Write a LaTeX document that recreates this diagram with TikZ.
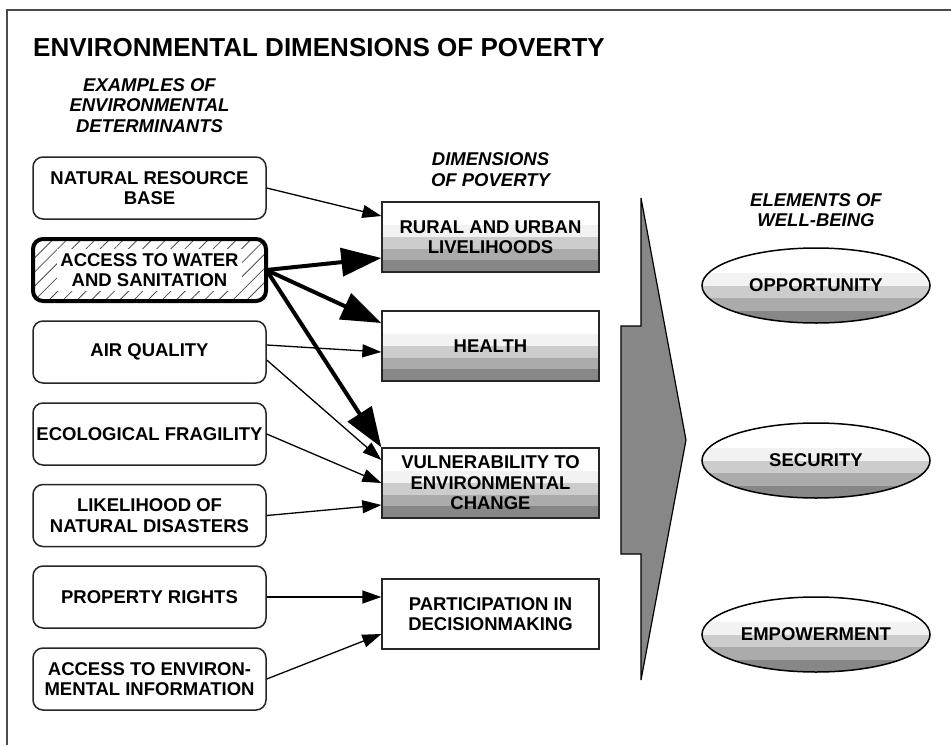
\documentclass[tikz,border=0pt]{standalone}
\usepackage{fontspec}
\setmainfont{Liberation Sans}
\usetikzlibrary{shapes.geometric, arrows.meta, calc, patterns.meta}
\newcommand{\detfont}{\fontsize{18.5}{20.4}\selectfont\bfseries}
\newcommand{\headfont}{\fontsize{18.5}{20.5}\selectfont\bfseries\itshape}
\newcommand{\titlefont}{\fontsize{26}{30}\selectfont\bfseries}
\tikzstyle{detbox} = [draw=black!85, line width=1.5pt, rounded corners=10pt, minimum width=233pt, minimum height=62pt, inner sep=0pt, align=center, font=\detfont]
\tikzstyle{hatched} = [line width=4pt, draw=black, pattern={Lines[angle=45,distance=10pt,line width=0.8pt]}, pattern color=black!70]
\tikzstyle{dimbox} = [draw=black!85, line width=1.3pt, minimum width=217pt, minimum height=70pt, inner sep=0pt, align=center, font=\detfont]
\tikzstyle{banded} = [path picture={
    \foreach \c [count=\i from 0] in {white,white,black!5,black!20,black!33,black!47}
      \fill[\c] ($(path picture bounding box.north west)!{\i/6}!(path picture bounding box.south west)$)
        rectangle ($(path picture bounding box.north east)!{(\i+1.05)/6}!(path picture bounding box.south east)$);
  }]
\tikzstyle{wellbox} = [ellipse, draw=black, line width=1.5pt, minimum width=228pt, minimum height=75pt, inner sep=0pt, font=\detfont, banded]
\tikzstyle{headtext} = [align=center, inner sep=0pt, font=\headfont]
\tikzstyle{thinarrow} = [line width=1.3pt, -{Triangle[length=19pt,width=13pt]}]
\tikzstyle{thickarrow} = [line width=4pt, -{Triangle[length=40pt,width=28pt]}]

\begin{document}
\begin{tikzpicture}[x=1pt, y=-1pt]
\useasboundingbox (0,0) rectangle (951,745);
\draw[black!70, line width=1.5pt] (951,10) -- (7,10) -- (7,745);

\node[anchor=base west, inner sep=0pt, font=\titlefont] (title) at (33,56.7) {ENVIRONMENTAL DIMENSIONS OF POVERTY};
\node[headtext] (dethead) at (149.5,105.4) {EXAMPLES OF\\ENVIRONMENTAL\\DETERMINANTS};
\node[headtext] (dimhead) at (490.5,169.5) {DIMENSIONS\\OF POVERTY};
\node[headtext] (wellhead) at (816,210) {ELEMENTS OF\\WELL-BEING};

\node[detbox] (nrb) at (149.5,188) {NATURAL RESOURCE\\BASE};
\node[detbox, hatched] (aws) at (149.5,270) {};
\node[fill=white, inner xsep=3pt, inner ysep=4pt, align=center, font=\detfont] (awstext) at (aws.center) {ACCESS TO WATER\\AND SANITATION};
\node[detbox] (airq) at (149.5,352) {AIR QUALITY};
\node[detbox] (ecof) at (149.5,434) {ECOLOGICAL FRAGILITY};
\node[detbox] (ndis) at (149.5,515.5) {LIKELIHOOD OF\\NATURAL DISASTERS};
\node[detbox] (prop) at (149.5,597) {PROPERTY RIGHTS};
\node[detbox] (einf) at (149.5,679) {ACCESS TO ENVIRON-\\MENTAL INFORMATION};

\node[dimbox, banded] (rural) at (490.5,237) {RURAL AND URBAN\\LIVELIHOODS};
\node[dimbox, banded] (health) at (490.5,346) {HEALTH};
\node[dimbox, banded] (vuln) at (490.5,483) {VULNERABILITY TO\\ENVIRONMENTAL\\CHANGE};
\node[dimbox] (part) at (490.5,614) {PARTICIPATION IN\\DECISIONMAKING};

\draw[line width=1.2pt, fill=black!47] (641,198) -- (686,440) -- (641,680) -- (641,554) -- (621,554) -- (621,326) -- (641,326) -- cycle;

\node[wellbox] (opp) at (816,285.5) {OPPORTUNITY};
\node[wellbox] (sec) at (816,460.5) {SECURITY};
\node[wellbox] (emp) at (816,634.5) {EMPOWERMENT};

\draw[thinarrow] (nrb.east) -- ([yshift=21pt]rural.west);
\draw[thickarrow] (aws.east) -- ([yshift=-21pt]rural.west);
\draw[thickarrow] (aws.east) -- ([yshift=23pt]health.west);
\draw[thickarrow] (aws.east) -- (vuln.north west);
\draw[thinarrow] ([yshift=7pt]airq.east) -- ([yshift=-6pt]health.west);
\draw[thinarrow] ([yshift=-8pt]airq.east) -- ([yshift=23pt]vuln.west);
\draw[thinarrow] (ecof.east) -- (vuln.west);
\draw[thinarrow] (ndis.east) -- ([yshift=-22pt]vuln.west);
\draw[thinarrow] (prop.east) -- ([yshift=17pt]part.west);
\draw[thinarrow] (einf.east) -- ([yshift=-20pt]part.west);
\end{tikzpicture}
\end{document}
